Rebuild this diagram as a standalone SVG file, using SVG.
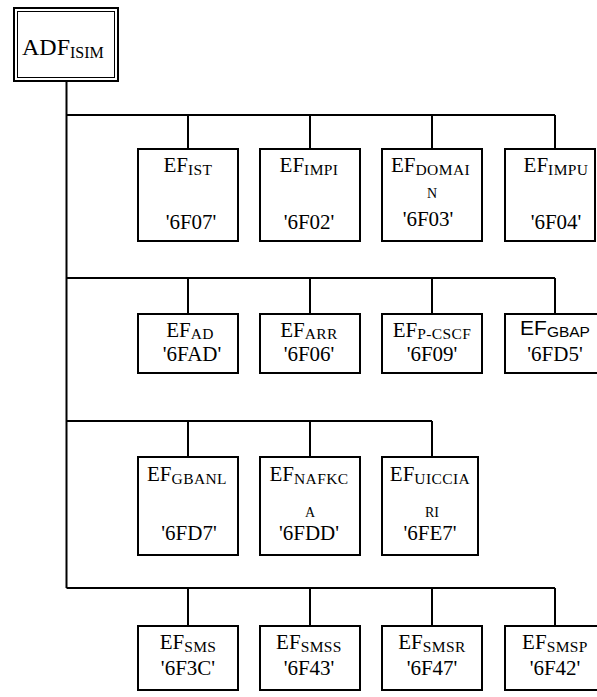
<svg xmlns="http://www.w3.org/2000/svg" width="597" height="697" viewBox="0 0 597 697">
<style>
.box{fill:#fff;stroke:#000;stroke-width:2}
.ln{stroke:#000;stroke-width:2;fill:none}
text{font-family:"Liberation Serif","Times New Roman",serif;font-size:21px;fill:#000}
.c{text-anchor:middle}
.sub{font-size:15.5px;letter-spacing:0.4px}
.sans{font-family:"Liberation Sans",Arial,sans-serif}
.small{font-size:14px}
</style>
<rect width="597" height="697" fill="#fff"/>
<g id="connectors">
<path class="ln" d="M66.5,81 V588"/>
<path class="ln" d="M66.5,115 H555 M188,115 V149 M310,115 V149 M432,115 V149 M555,115 V149"/>
<path class="ln" d="M66.5,278 H555 M188,278 V314 M310,278 V314 M432,278 V314 M555,278 V314"/>
<path class="ln" d="M66.5,421 H432 M188,421 V457 M310,421 V457 M432,421 V457"/>
<path class="ln" d="M66.5,588 H555 M188,588 V626 M310,588 V626 M432,588 V626 M555,588 V626"/>
</g>
<g id="adf">
<rect x="14" y="8" width="104" height="73" fill="#fff" stroke="#000" stroke-width="2"/>
<rect x="17.5" y="11.5" width="97" height="66" fill="none" stroke="#000" stroke-width="1"/>
<text x="22" y="55" style="font-size:24px">ADF<tspan class="sub" dy="3" style="font-size:16px;letter-spacing:0">ISIM</tspan></text>
</g>
<g id="ef-ist"><rect class="box" x="138" y="149" width="100" height="92"/><text class="c" x="188" y="172">EF<tspan class="sub" dy="3">IST</tspan></text><text class="c" x="191" y="229">'6F07'</text></g>
<g id="ef-impi"><rect class="box" x="260" y="149" width="100" height="92"/><text class="c" x="309" y="172">EF<tspan class="sub" dy="3">IMPI</tspan></text><text class="c" x="309" y="229">'6F02'</text></g>
<g id="ef-domain"><rect class="box" x="382" y="149" width="100" height="92"/><text x="391" y="172">EF<tspan class="sub" dy="3">DOMAI</tspan></text><text class="c small" x="432" y="198">N</text><text class="c" x="428" y="226">'6F03'</text></g>
<g id="ef-impu"><rect class="box" x="505" y="149" width="90" height="92"/><text class="c" x="556" y="172">EF<tspan class="sub" dy="3">IMPU</tspan></text><text class="c" x="556" y="229">'6F04'</text></g>
<g id="ef-ad"><rect class="box" x="138" y="314" width="100" height="59"/><text class="c" x="190" y="337">EF<tspan class="sub" dy="2">AD</tspan></text><text class="c" x="192" y="361">'6FAD'</text></g>
<g id="ef-arr"><rect class="box" x="260" y="314" width="100" height="59"/><text class="c" x="309" y="337">EF<tspan class="sub" dy="2">ARR</tspan></text><text class="c" x="309" y="361">'6F06'</text></g>
<g id="ef-pcscf"><rect class="box" x="382" y="314" width="100" height="59"/><text class="c" x="432" y="337">EF<tspan class="sub" dy="2">P-CSCF</tspan></text><text class="c" x="432" y="361">'6F09'</text></g>
<g id="ef-gbap"><rect class="box" x="505" y="314" width="100" height="59"/><text class="c sans" x="555" y="335">EF<tspan class="sub" dy="2" style="letter-spacing:0">GBAP</tspan></text><text class="c" x="555" y="361">'6FD5'</text></g>
<g id="ef-gbanl"><rect class="box" x="138" y="457" width="100" height="98"/><text class="c" x="187" y="481">EF<tspan class="sub" dy="3">GBANL</tspan></text><text class="c" x="189" y="540">'6FD7'</text></g>
<g id="ef-nafkca"><rect class="box" x="260" y="457" width="100" height="98"/><text class="c" x="309" y="481">EF<tspan class="sub" dy="3">NAFKC</tspan></text><text class="c small" x="310" y="517">A</text><text class="c" x="309" y="540">'6FDD'</text></g>
<g id="ef-uicciari"><rect class="box" x="382" y="457" width="96" height="98"/><text class="c" x="430" y="481">EF<tspan class="sub" dy="3">UICCIA</tspan></text><text class="c small" x="432" y="517">RI</text><text class="c" x="430" y="540">'6FE7'</text></g>
<g id="ef-sms"><rect class="box" x="138" y="626" width="100" height="64"/><text class="c" x="188" y="649">EF<tspan class="sub" dy="3">SMS</tspan></text><text class="c" x="188" y="675">'6F3C'</text></g>
<g id="ef-smss"><rect class="box" x="260" y="626" width="100" height="64"/><text class="c" x="309" y="649">EF<tspan class="sub" dy="3">SMSS</tspan></text><text class="c" x="309" y="675">'6F43'</text></g>
<g id="ef-smsr"><rect class="box" x="382" y="626" width="100" height="64"/><text class="c" x="432" y="649">EF<tspan class="sub" dy="3">SMSR</tspan></text><text class="c" x="432" y="675">'6F47'</text></g>
<g id="ef-smsp"><rect class="box" x="505" y="626" width="100" height="64"/><text class="c" x="555" y="649">EF<tspan class="sub" dy="3">SMSP</tspan></text><text class="c" x="555" y="675">'6F42'</text></g>
</svg>
